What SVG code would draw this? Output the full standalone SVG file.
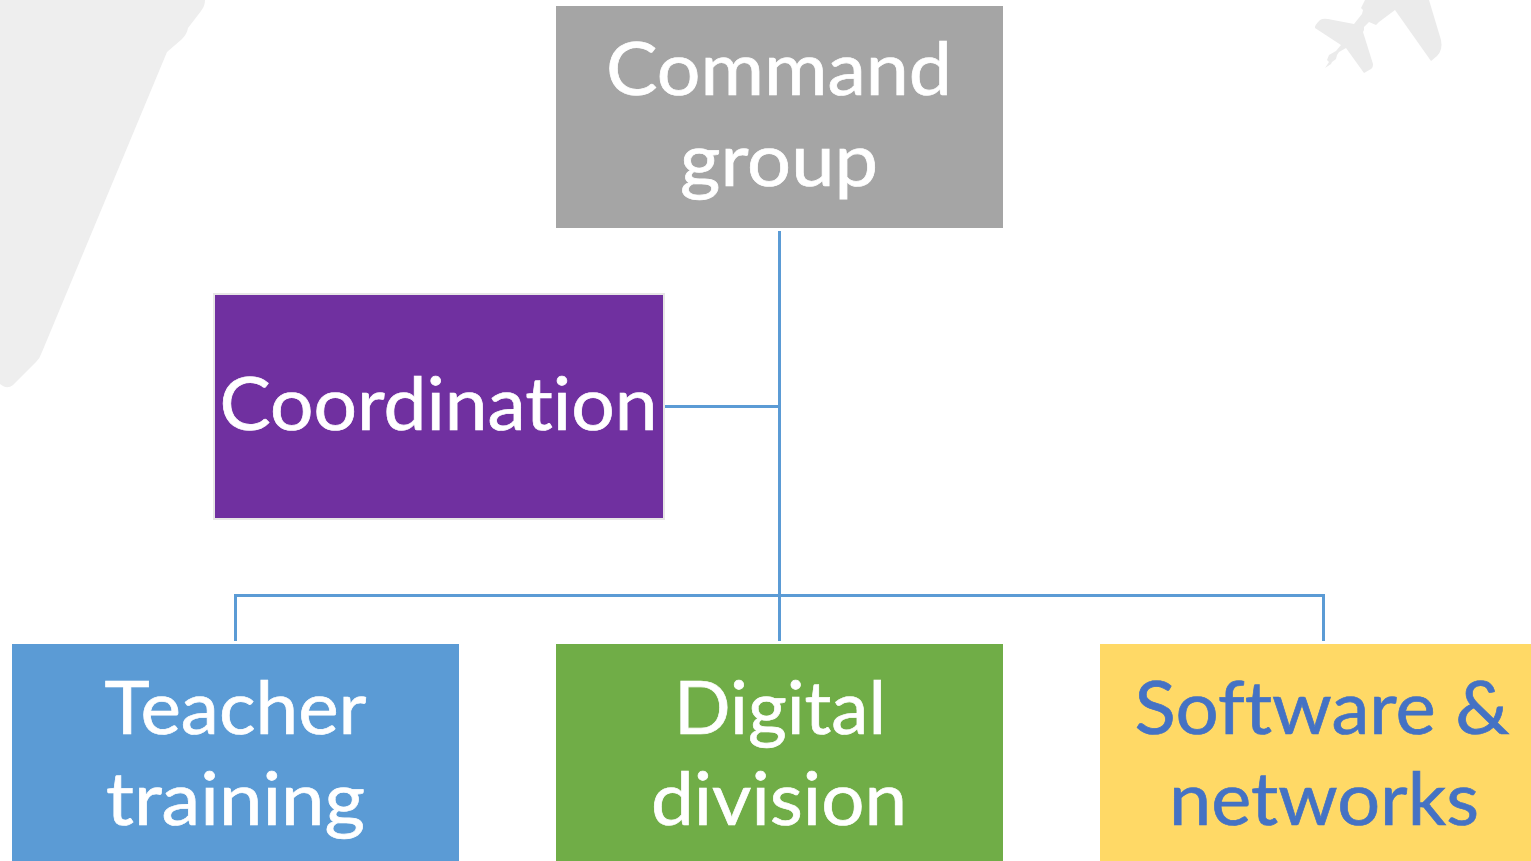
<svg xmlns="http://www.w3.org/2000/svg" width="1531" height="861" viewBox="0 0 1531 861">
<style>
.bg{fill:#eeeeee}
.lbl{font-family:Lato,"Open Sans",sans-serif;font-size:74px;fill:#ffffff;stroke:#ffffff;stroke-width:.7px;text-anchor:middle;font-variant-ligatures:none}
.lbl.blue{fill:#4472c4;stroke:#4472c4}
.conn{fill:none;stroke:#5b9bd5;stroke-width:3}
</style>
<rect width="1531" height="861" fill="#ffffff"/>
<g id="background">
<path class="bg" d="M0 0H205Q205 6 201 11L188 28Q187 34 182 39L167 52L42 352Q40 358 36 362L13 385Q8 389 3 386L0 384Z"/>
<path fill="#ebebeb" d="M1365 0H1429L1441 40Q1443 50 1437 56L1431 61L1395 10L1379 22L1376 25L1369 22L1364 27L1364 30L1363 32L1373 64Q1373 68 1371 69L1364 73L1346 48L1339 52L1337 55L1336 59L1332 62L1331 64L1325 68L1329 62L1327 60L1329 55L1336 51L1341 45L1315 28Q1314 26 1320 20Q1323 18 1328 19L1354 24L1362 14L1363 10L1361 8Z"/>
</g>
<g id="connectors">
<path class="conn" d="M779.500 231V641M665 406.500H779.500M235.500 641V595.500H1323.500V641"/>
</g>
<g id="command-group">
<rect x="556" y="6" width="447" height="222" fill="#a5a5a5"/>
<text class="lbl" x="779" y="95" textLength="346" lengthAdjust="spacingAndGlyphs">Command</text>
<text class="lbl" x="779" y="186" textLength="198" lengthAdjust="spacingAndGlyphs">group</text>
</g>
<g id="coordination">
<rect x="214" y="294" width="450" height="225" fill="#7030a0" stroke="#e7e6e6" stroke-width="2"/>
<text class="lbl" x="438.500" y="430" textLength="438" lengthAdjust="spacingAndGlyphs">Coordination</text>
</g>
<g id="teacher-training">
<rect x="12" y="644" width="447" height="217" fill="#5b9bd5"/>
<text class="lbl" x="235.500" y="734" textLength="262" lengthAdjust="spacingAndGlyphs">Teacher</text>
<text class="lbl" x="235.500" y="825" textLength="259" lengthAdjust="spacingAndGlyphs">training</text>
</g>
<g id="digital-division">
<rect x="556" y="644" width="447" height="217" fill="#70ad47"/>
<text class="lbl" x="780" y="734" textLength="212" lengthAdjust="spacingAndGlyphs">Digital</text>
<text class="lbl" x="779" y="825" textLength="256" lengthAdjust="spacingAndGlyphs">division</text>
</g>
<g id="software-networks">
<rect x="1100" y="644" width="431" height="217" fill="#ffd966"/>
<text class="lbl blue" x="1322" y="734" textLength="375" lengthAdjust="spacingAndGlyphs">Software &amp;</text>
<text class="lbl blue" x="1324" y="825" textLength="310" lengthAdjust="spacingAndGlyphs">networks</text>
</g>
</svg>
